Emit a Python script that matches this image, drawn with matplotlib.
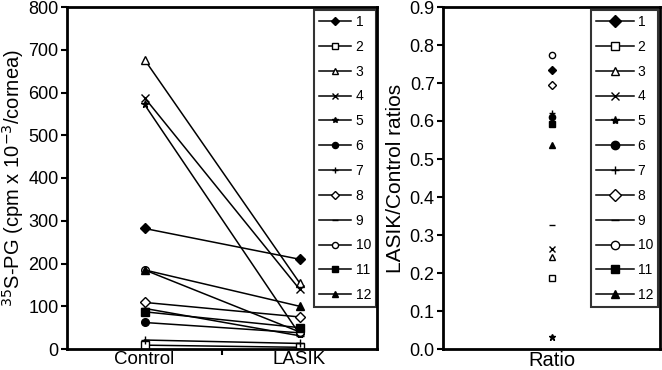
import matplotlib
matplotlib.use('Agg')
from matplotlib import pyplot as plt
from matplotlib.ticker import FormatStrFormatter
from matplotlib.lines import Line2D
import numpy as np

plt.rcParams['font.family'] = ['Liberation Sans', 'DejaVu Sans']

# data
subjects = ['1', '2', '3', '4', '5', '6', '7', '8', '9', '10', '11', '12']
groups = ['Control', 'LASIK']
control = [282, 9, 677, 588, 572, 62, 21, 109, 95, 185, 87, 185]
lasik = [210, 4, 155, 140, 35, 38, 13, 75, 31, 40, 50, 100]
ratios = [0.735, 0.187, 0.243, 0.262, 0.032, 0.611, 0.62, 0.694,
          0.327, 0.773, 0.592, 0.536]

# marker, filled?
markers = ['D', 's', '^', 'x', '*', 'o', '+', 'D', '_', 'o', 's', '^']
filled = [True, False, False, True, True, True, True, False,
          True, False, True, True]

fig = plt.figure(figsize=(6.62, 3.70), dpi=100)
ax1 = fig.add_axes([67/662, 1-349/370, 310/662, 342/370])
ax2 = fig.add_axes([443/662, 1-349/370, 217/662, 342/370])

xpos = np.arange(1, len(groups)+1)
for i, name in enumerate(subjects):
    fc = 'black' if filled[i] else 'white'
    ax1.plot(xpos, [control[i], lasik[i]], color='black', lw=1.1,
             marker=markers[i], ms=5.5, mfc=fc, mec='black', mew=1.0,
             label=name)
    ax2.plot([1], [ratios[i]], linestyle='None',
             marker=markers[i], ms=4.5, mfc=fc, mec='black', mew=1.0)

# left panel
ax1.set_xlim(0.5, 2.5)
ax1.set_ylim(0, 800)
ax1.set_yticks(np.arange(0, 801, 100))
ax1.set_xticks(xpos)
ax1.set_xticklabels(groups, fontsize=13.5)
ax1.set_xticks([1.5], minor=True)
ax1.tick_params(axis='x', which='major', length=0, pad=1.5)
ax1.tick_params(axis='x', which='minor', length=4, width=1.5, direction='out')
ax1.tick_params(axis='y', labelsize=13, length=4, width=1.5, direction='out', pad=2)
ax1.set_ylabel(r'$^{35}$S-PG (cpm x 10$^{-3}$/cornea)', fontsize=14.5, labelpad=2)

# right panel
ax2.set_xlim(0.5, 1.5)
ax2.set_ylim(0, 0.9)
ax2.set_yticks(np.arange(0, 0.91, 0.1))
ax2.yaxis.set_major_formatter(FormatStrFormatter('%.1f'))
ax2.set_xticks([1])
ax2.set_xticklabels(['Ratio'], fontsize=14.5)
ax2.tick_params(axis='x', length=0, pad=1.5)
ax2.tick_params(axis='y', labelsize=13, length=4, width=1.5, direction='out', pad=2)
ax2.set_ylabel('LASIK/Control ratios', fontsize=15, labelpad=3)

for ax in (ax1, ax2):
    for sp in ax.spines.values():
        sp.set_linewidth(2)

leg_font = {'family': ['Liberation Sans Narrow', 'Liberation Sans'], 'size': 10}
leg1 = ax1.legend(loc='upper right', bbox_to_anchor=(0.997, 0.991),
                  borderaxespad=0, frameon=True, fancybox=False,
                  edgecolor='black', prop=leg_font, handlelength=2.3,
                  handletextpad=0.35, labelspacing=0.78, borderpad=0.35,
                  markerscale=0.8)
leg1.get_frame().set_linewidth(1.5)

# right legend shows a line through each marker
handles = []
for i in range(len(subjects)):
    fc = 'black' if filled[i] else 'white'
    handles.append(Line2D([], [], color='black', lw=1.1, marker=markers[i],
                          ms=6, mfc=fc, mec='black', mew=1.0))
leg2 = ax2.legend(handles, subjects, loc='upper right',
                  bbox_to_anchor=(0.991, 0.991), borderaxespad=0,
                  frameon=True, fancybox=False, edgecolor='black',
                  prop=leg_font, handlelength=2.7, handletextpad=0.3,
                  labelspacing=0.78, borderpad=0.35)
leg2.get_frame().set_linewidth(1.5)

fig.savefig('out.png', dpi=100)
